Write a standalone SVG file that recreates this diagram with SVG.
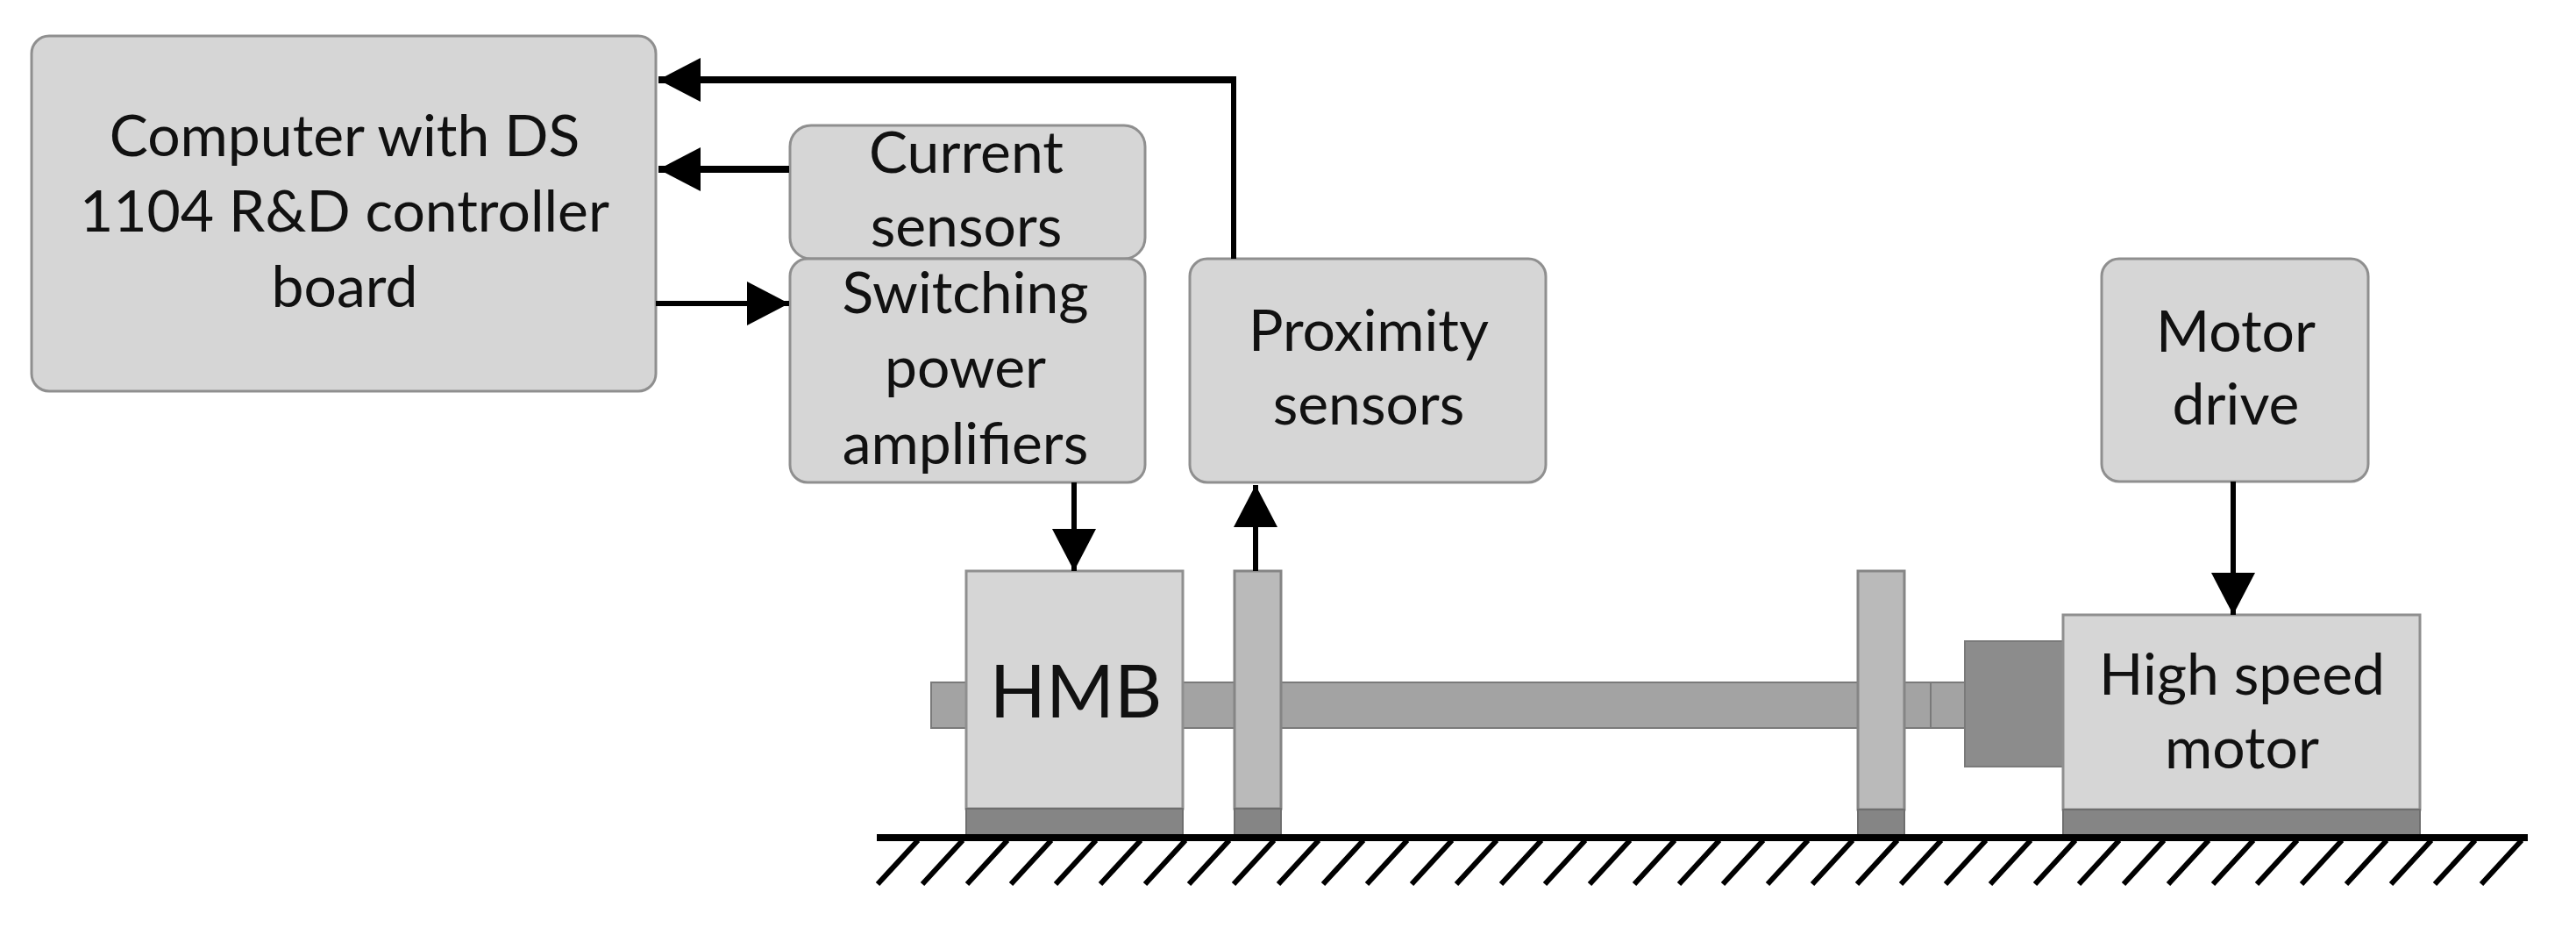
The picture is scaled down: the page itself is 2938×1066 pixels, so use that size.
<svg xmlns="http://www.w3.org/2000/svg" width="2938" height="1066" viewBox="0 0 2938 1066">
<style>
.box{fill:#d6d6d6;stroke:#8f8f8f;stroke-width:3}
.plate{fill:#bababa;stroke:#858585;stroke-width:3}
.base{fill:#858585;stroke:#6e6e6e;stroke-width:2}
.shaft{fill:#a3a3a3;stroke:#7a7a7a;stroke-width:2}
.dark{fill:#8c8c8c;stroke:#7a7a7a;stroke-width:2}
.lbl{font-family:Lato,"Open Sans",sans-serif;font-size:66px;fill:#111;text-anchor:middle}
.big{font-size:84px}
.conn{fill:none;stroke:#000;stroke-width:6}
.thick{fill:none;stroke:#000;stroke-width:8}
.hatch{fill:none;stroke:#000;stroke-width:6}
</style>
<defs>
<marker id="arrow" markerUnits="userSpaceOnUse" viewBox="0 0 48 50" refX="48" refY="25" markerWidth="48" markerHeight="50" orient="auto"><path d="M0 0L48 25L0 50Z" fill="#000"/></marker>
</defs>
<g id="shaft-assembly">
<rect class="shaft" x="1062" y="778" width="60" height="52"/>
<rect class="shaft" x="1340" y="778" width="80" height="52"/>
<rect class="shaft" x="1450" y="778" width="680" height="52"/>
<rect class="shaft" x="2165" y="778" width="37" height="52"/>
<rect class="shaft" x="2202" y="778" width="44" height="52"/>
</g>
<g id="hmb"><rect class="box" x="1102" y="651" width="247" height="271"/><rect class="base" x="1102" y="922" width="247" height="32"/><text class="lbl big" x="1227" y="818">HMB</text></g>
<g id="plate-1"><rect class="plate" x="1408" y="651" width="53" height="271"/><rect class="base" x="1408" y="922" width="53" height="32"/></g>
<g id="plate-2"><rect class="plate" x="2119" y="651" width="53" height="272"/><rect class="base" x="2119" y="923" width="53" height="32"/></g>
<g id="coupling"><rect class="dark" x="2241" y="731" width="114" height="143"/></g>
<g id="motor"><rect class="box" x="2353" y="701" width="407" height="222"/><rect class="base" x="2353" y="923" width="407" height="32"/><text class="lbl" x="2557" y="792">High speed</text><text class="lbl" x="2557" y="876">motor</text></g>
<g id="computer"><rect class="box" x="36" y="41" width="712" height="405" rx="20"/><text class="lbl" x="393" y="178">Computer with DS</text><text class="lbl" x="393" y="264">1104 R&amp;D controller</text><text class="lbl" x="393" y="350">board</text></g>
<g id="current-sensors"><rect class="box" x="901" y="143" width="405" height="152" rx="24"/><text class="lbl" x="1102" y="197">Current</text><text class="lbl" x="1102" y="281">sensors</text></g>
<g id="power-amplifiers"><rect class="box" x="901" y="295" width="405" height="255" rx="20"/><text class="lbl" x="1101" y="357">Switching</text><text class="lbl" x="1101" y="442">power</text><text class="lbl" x="1101" y="529">amplifiers</text></g>
<g id="proximity-sensors"><rect class="box" x="1357" y="295" width="406" height="255" rx="20"/><text class="lbl" x="1561" y="400">Proximity</text><text class="lbl" x="1561" y="484">sensors</text></g>
<g id="motor-drive"><rect class="box" x="2397" y="295" width="304" height="254" rx="20"/><text class="lbl" x="2550" y="401">Motor</text><text class="lbl" x="2550" y="484">drive</text></g>
<g id="connectors">
<path class="conn" d="M1407 295V91"/>
<path class="thick" marker-end="url(#arrow)" d="M1410 91H751"/>
<path class="thick" marker-end="url(#arrow)" d="M900 193H751"/>
<path class="conn" marker-end="url(#arrow)" d="M748 346H900"/>
<path class="conn" marker-end="url(#arrow)" d="M1225 550V651"/>
<path class="conn" marker-end="url(#arrow)" d="M1432 651V553"/>
<path class="conn" marker-end="url(#arrow)" d="M2547 549V701"/>
</g>
<g id="ground">
<path class="thick" d="M1000 955H2883"/>
<path class="hatch" d="M1047 958L1001 1008M1098 958L1052 1008M1149 958L1103 1008M1199 958L1153 1008M1250 958L1204 1008M1301 958L1255 1008M1352 958L1306 1008M1402 958L1356 1008M1453 958L1407 1008M1504 958L1458 1008M1555 958L1509 1008M1605 958L1559 1008M1656 958L1610 1008M1707 958L1661 1008M1758 958L1712 1008M1808 958L1762 1008M1859 958L1813 1008M1910 958L1864 1008M1961 958L1915 1008M2011 958L1965 1008M2062 958L2016 1008M2113 958L2067 1008M2164 958L2118 1008M2214 958L2168 1008M2265 958L2219 1008M2316 958L2270 1008M2367 958L2321 1008M2417 958L2371 1008M2468 958L2422 1008M2519 958L2473 1008M2570 958L2524 1008M2620 958L2574 1008M2671 958L2625 1008M2722 958L2676 1008M2773 958L2727 1008M2823 958L2777 1008M2876 958L2830 1008"/>
</g>
</svg>
